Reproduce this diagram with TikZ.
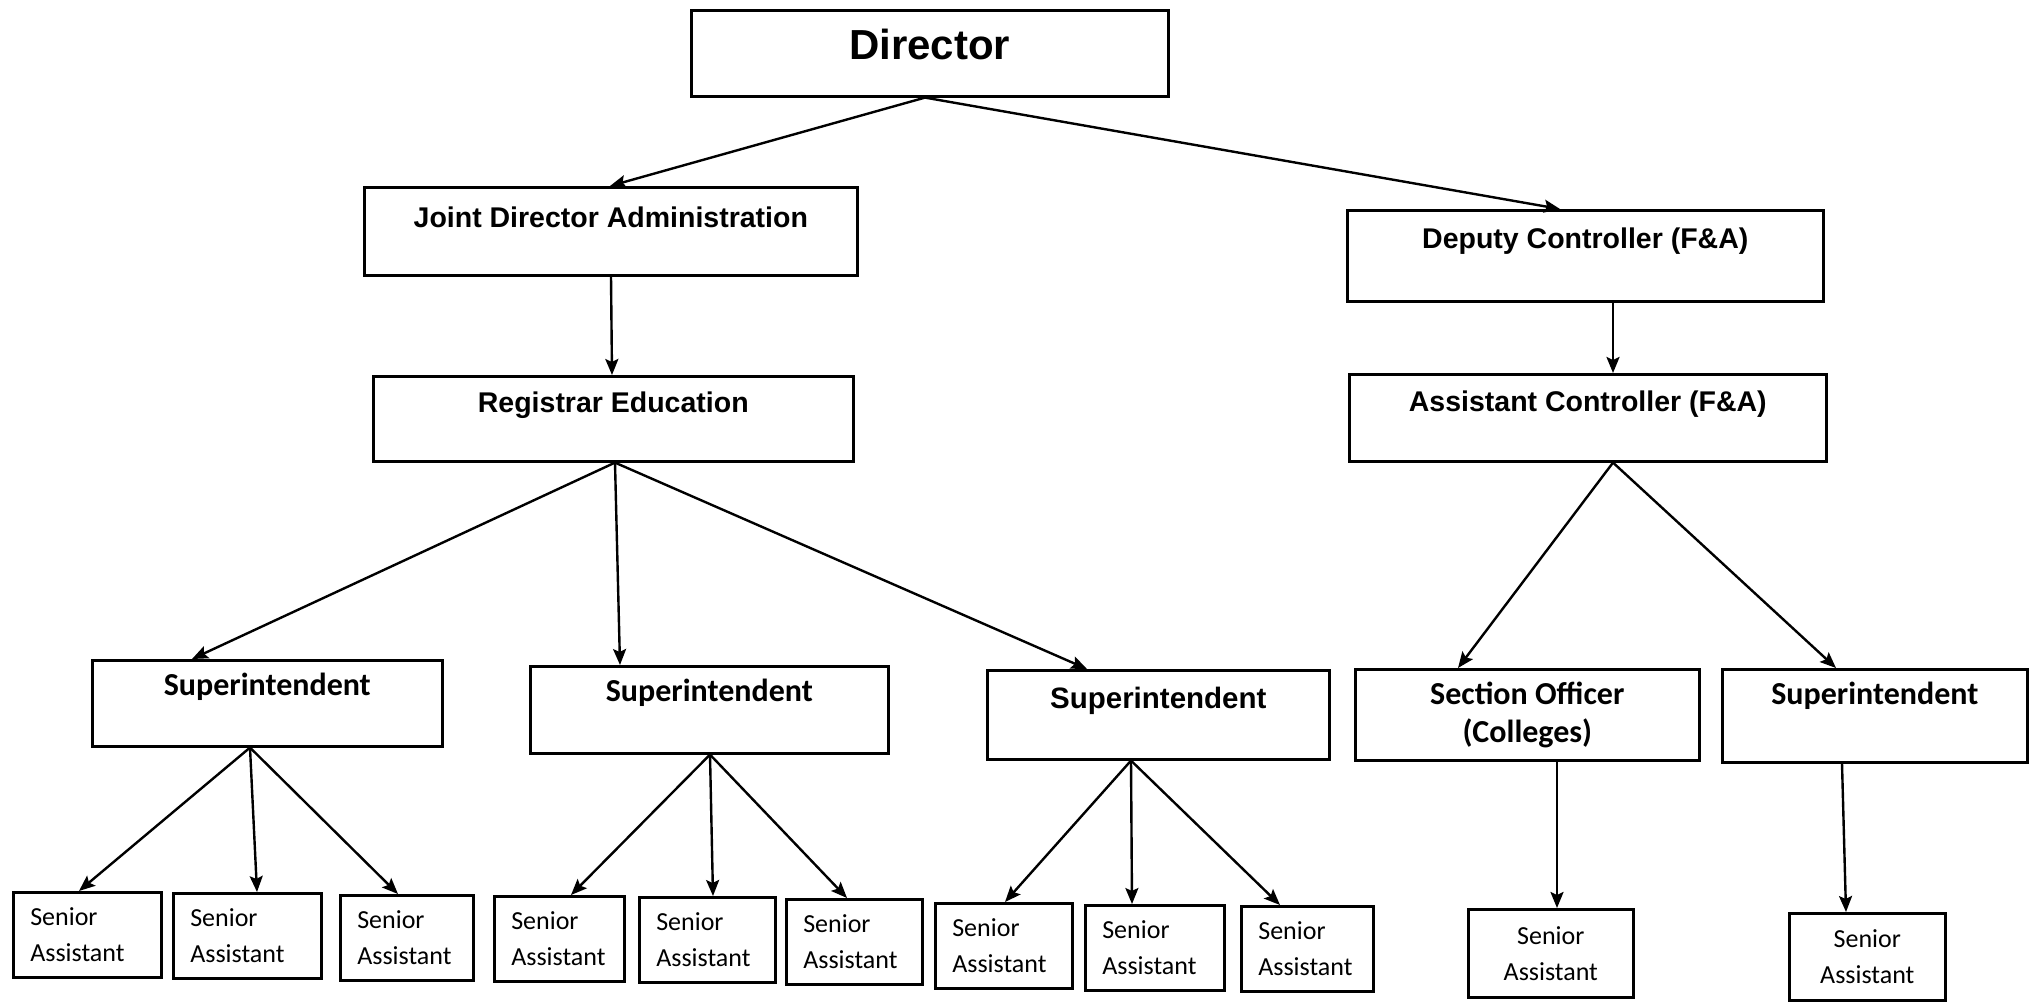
\documentclass[tikz,border=0pt]{standalone}
\usepackage{fontspec}
\newfontfamily\arialfont{Liberation Sans}
\newfontfamily\calfont{Carlito}
\usetikzlibrary{arrows.meta}

\begin{document}
\begin{tikzpicture}[x=1pt, y=-1pt, line width=2.6pt,
    box/.style={draw, anchor=north west, inner sep=0pt},
    headbox/.style={box, font=\arialfont\bfseries\fontsize{28.5}{34}\selectfont},
    supbox/.style={box, font=\calfont\bfseries\fontsize{32}{38}\selectfont},
    seniorbox/.style={box, font=\calfont\fontsize{26}{36}\selectfont, inner xsep=17pt, minimum height=85pt},
    arr/.style={-{Stealth[length=16pt, width=13pt, inset=3pt]}, line width=2.4pt}]
\useasboundingbox (0,0) rectangle (2034,1008);
% Top of the tree
    \node[headbox, font=\arialfont\bfseries\fontsize{42}{48}\selectfont, minimum width=477pt, text height=49pt, text depth=37pt] (dir) at (690,9) {Director};
% Second and third rows
    \node[headbox, minimum width=493pt, text height=40pt, text depth=48pt] (jda) at (363,186) {Joint Director Administration};
    \node[headbox, minimum width=480pt, text height=36pt, text depth=49pt] (reg) at (372,375) {Registrar Education};
    \node[headbox, minimum width=476pt, text height=38pt, text depth=53pt] (dc) at (1346,209) {Deputy Controller (F\&A)};
    \node[headbox, minimum width=477pt, text height=37pt, text depth=50pt] (ac) at (1348,373) {Assistant Controller (F\&A)};
% Fourth row
    \node[supbox, minimum width=350pt, text height=35pt, text depth=51pt] (sup1) at (91,659) {Superintendent};
    \node[supbox, minimum width=358pt, text height=35pt, text depth=52pt] (sup2) at (529,665) {Superintendent};
    \node[headbox, font=\arialfont\bfseries\fontsize{29.5}{35}\selectfont, minimum width=342pt, text height=38pt, text depth=51pt] (sup3) at (986,669) {Superintendent};
    \node[supbox, align=center, minimum width=344pt, minimum height=91pt] (so) at (1354,668) {Section Officer\\(Colleges)};
    \node[supbox, minimum width=305pt, text height=35pt, text depth=58pt] (sup5) at (1721,668) {Superintendent};
% Bottom row
    \node[seniorbox, align=left, text width=114pt] (sa1) at (12,891) {Senior\\Assistant};
    \node[seniorbox, align=left, text width=114pt] (sa2) at (172,892) {Senior\\Assistant};
    \node[seniorbox, align=left, text width=99pt] (sa3) at (339,894) {Senior\\Assistant};
    \node[seniorbox, align=left, text width=96pt] (sa4) at (493,895) {Senior\\Assistant};
    \node[seniorbox, align=left, text width=102pt] (sa5) at (638,896) {Senior\\Assistant};
    \node[seniorbox, align=left, text width=102pt] (sa6) at (785,898) {Senior\\Assistant};
    \node[seniorbox, align=left, text width=103pt] (sa7) at (934,902) {Senior\\Assistant};
    \node[seniorbox, align=left, text width=105pt] (sa8) at (1084,904) {Senior\\Assistant};
    \node[seniorbox, align=left, text width=98pt] (sa9) at (1240,905) {Senior\\Assistant};
    \node[seniorbox, align=center, minimum width=165pt, minimum height=88pt] (sa10) at (1467,908) {Senior\\Assistant};
    \node[seniorbox, align=center, minimum width=156pt, minimum height=87pt] (sa11) at (1788,912) {Senior\\Assistant};
% Arrows from the Director down
    \draw[arr] ([xshift=235pt]dir.south west) -- ([xshift=247pt]jda.north west);
    \draw[arr] ([xshift=235pt]dir.south west) -- ([xshift=214pt]dc.north west);
    \draw[arr] ([xshift=248pt]jda.south west) -- ([xshift=240pt]reg.north west);
    \draw[arr] ([xshift=267pt]dc.south west) -- ([xshift=265pt]ac.north west);
% Arrows to the fourth row
    \draw[arr] ([xshift=243pt]reg.south west) -- ([xshift=101pt]sup1.north west);
    \draw[arr] ([xshift=243pt]reg.south west) -- ([xshift=91pt]sup2.north west);
    \draw[arr] ([xshift=243pt]reg.south west) -- ([xshift=101pt]sup3.north west);
    \draw[arr] ([xshift=265pt]ac.south west) -- ([xshift=104pt]so.north west);
    \draw[arr] ([xshift=265pt]ac.south west) -- ([xshift=115pt]sup5.north west);
% Arrows to the bottom row
    \draw[arr] ([xshift=159pt]sup1.south west) -- ([xshift=67pt]sa1.north west);
    \draw[arr] ([xshift=159pt]sup1.south west) -- ([xshift=85pt]sa2.north west);
    \draw[arr] ([xshift=159pt]sup1.south west) -- ([xshift=59pt]sa3.north west);
    \draw[arr] ([xshift=181pt]sup2.south west) -- ([xshift=78pt]sa4.north west);
    \draw[arr] ([xshift=181pt]sup2.south west) -- ([xshift=75pt]sa5.north west);
    \draw[arr] ([xshift=181pt]sup2.south west) -- ([xshift=62pt]sa6.north west);
    \draw[arr] ([xshift=145pt]sup3.south west) -- ([xshift=71pt]sa7.north west);
    \draw[arr] ([xshift=145pt]sup3.south west) -- ([xshift=48pt]sa8.north west);
    \draw[arr] ([xshift=145pt]sup3.south west) -- ([xshift=40pt]sa9.north west);
    \draw[arr] ([xshift=203pt]so.south west) -- ([xshift=90pt]sa10.north west);
    \draw[arr] ([xshift=121pt]sup5.south west) -- ([xshift=58pt]sa11.north west);
\end{tikzpicture}
\end{document}
